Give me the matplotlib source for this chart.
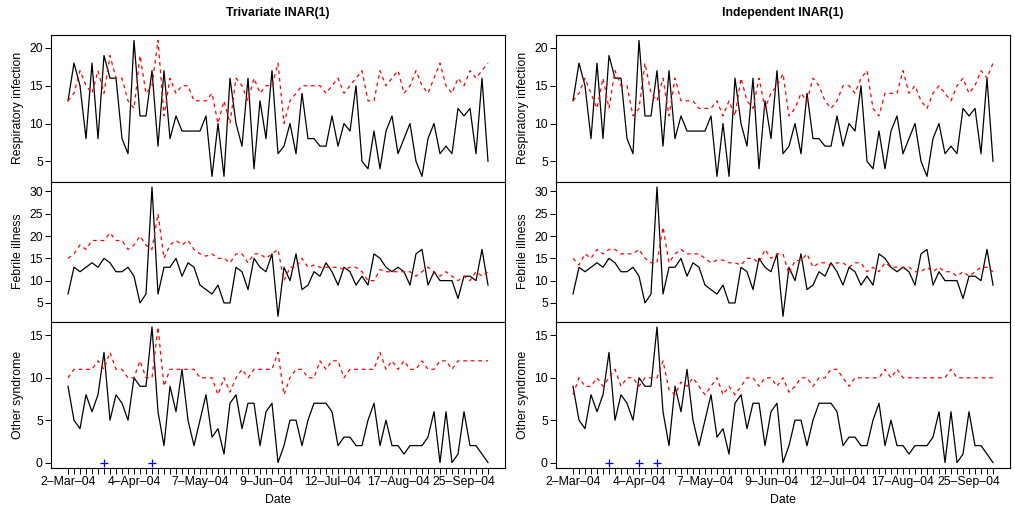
import numpy as np
import matplotlib
matplotlib.use("Agg")
import matplotlib.pyplot as plt

plt.rcParams['font.family'] = ['Liberation Sans', 'DejaVu Sans']

# observed counts (same in both columns)
resp_obs = [13, 18, 15, 8, 18, 8, 19, 16, 16, 8, 6, 21, 11, 11, 17, 7, 17, 8, 11, 9,
            9, 9, 9, 11, 3, 10, 3, 16, 10, 7, 16, 4, 13, 8, 17, 6, 7, 10, 6, 14,
            8, 8, 7, 7, 11, 7, 10, 9, 15, 5, 4, 9, 4, 9, 11, 6,
            8, 10, 5, 3, 8, 10, 6, 7, 6, 12, 11, 12, 6, 16, 5]
feb_obs = [7, 13, 12, 13, 14, 13, 15, 14, 12, 12, 13, 11, 5, 7, 31, 7, 13, 13, 15, 11,
           14, 13, 9, 8, 7, 9, 5, 5, 13, 12, 8, 15, 13, 12, 16, 2, 13, 10, 16, 8,
           9, 12, 11, 14, 12, 9, 13, 12, 9, 11, 9, 16, 15, 13, 12, 13,
           12, 9, 16, 17, 9, 12, 10, 10, 10, 6, 11, 11, 10, 17, 9]
oth_obs = [9, 5, 4, 8, 6, 8, 13, 5, 8, 7, 5, 10, 9, 9, 16, 6, 2, 9, 6, 11,
           5, 2, 5, 8, 3, 4, 1, 7, 8, 4, 7, 7, 2, 6, 7, 0, 2, 5, 5, 2,
           5, 7, 7, 7, 6, 2, 3, 3, 2, 2, 5, 7, 2, 5, 2, 2,
           1, 2, 2, 2, 3, 6, 0, 6, 0, 1, 6, 2, 2, 1, 0]

# trivariate INAR(1) predictions
resp_tri = [13, 14, 17, 15, 14, 17, 14, 19, 16, 16, 13, 12, 19, 14, 15, 21, 11, 16, 14, 15,
            15, 13, 13, 13, 14, 10, 13, 10, 16, 15, 13, 16, 14, 15, 15, 18, 10, 13, 14, 15,
            15, 15, 15, 14, 15, 16, 14, 15, 16, 17, 13, 13, 17, 15, 16, 17,
            14, 15, 17, 15, 14, 16, 18, 15, 14, 16, 15, 17, 16, 17, 18]
feb_tri = [15, 16, 18, 17, 19, 19, 19, 20.7, 19, 19, 17, 18, 20, 18, 17, 25, 15, 18, 19, 18,
           19, 17, 16, 15.5, 16, 15, 15, 14, 16, 16, 14, 16, 16, 15, 16, 17, 10, 13, 13, 15,
           13, 13.5, 13, 13, 13, 13, 12.5, 13, 13, 12, 10, 10, 12.5, 12, 12, 12,
           12, 12, 11, 12, 13, 12, 11, 12, 11, 10, 11, 10, 12, 11, 12]
oth_tri = [10, 11, 11, 11, 11, 12, 11, 13, 11, 11, 10, 10, 12, 10, 10, 16, 9, 11, 11, 11,
           11, 11, 10, 10, 10, 8, 10, 8.3, 10, 11, 10, 11, 11, 11, 11, 13, 8, 10, 11, 11,
           10, 10, 12, 11, 12, 12, 10, 11, 11, 11, 11, 11, 13, 11, 12, 11,
           12, 11, 11, 12, 11, 11, 12, 12, 11, 12, 12, 12, 12, 12, 12]

# independent INAR(1) predictions
resp_ind = [13, 14, 16, 14, 12, 16, 12, 17, 15, 15, 11, 12, 18, 14, 13, 16, 11, 16, 13, 13,
            13, 12, 12, 12, 13, 11, 13, 11, 16, 13, 12, 16, 12, 14, 15, 16.6, 11, 12, 14, 13,
            16, 15, 13, 12, 13, 15, 15, 14, 16, 17, 12, 11, 14, 14, 14, 17,
            14, 15, 13, 12, 14, 15, 14, 13, 15, 16, 14, 15, 17, 16, 18]
feb_ind = [15, 13.5, 16, 15, 17, 16, 17, 17, 16, 16, 16, 17, 15, 14, 14, 22, 14, 16, 17, 16,
           16, 16, 15, 14, 14.6, 14.6, 14, 14, 13.5, 15, 15, 14, 17, 15, 16, 16, 11.5, 14.5, 14.5, 16,
           13, 14, 14, 13.5, 14, 14, 13, 14, 14, 12, 13, 12, 14, 13, 13, 13,
           13, 12, 12, 13, 12, 13, 12, 12, 11, 12, 11, 12, 13, 13, 12]
oth_ind = [8, 10, 9, 9, 10, 9, 10, 11, 9, 10, 10, 9, 10, 10, 10, 12, 8.6, 8, 9.5, 9,
           10, 9, 8, 9, 10, 8, 9, 8, 9, 10, 10, 9, 10, 10, 9, 10, 8.3, 9, 10, 10,
           9, 10, 10, 11, 11, 10, 9, 10, 10, 10, 10, 10, 11, 10, 11, 10,
           10, 10, 10, 10, 10, 10, 10, 11, 10, 10, 10, 10, 10, 10, 10]

# outbreak signals (index of observation)
alarm_tri = [6, 14]
alarm_ind = [6, 11, 14]

# a date label every 11 observations
tick_idx = [0, 11, 22, 33, 44, 55, 66]
tick_labels = ['2\u2013Mar\u201304', '4\u2013Apr\u201304', '7\u2013May\u201304', '9\u2013Jun\u201304',
               '12\u2013Jul\u201304', '17\u2013Aug\u201304', '25\u2013Sep\u201304']

row_names = ['Respiratory infection', 'Febrile illness', 'Other syndrome']
row_ticks = [[5, 10, 15, 20], [5, 10, 15, 20, 25, 30], [0, 5, 10, 15]]
titles = ['Trivariate INAR(1)', 'Independent INAR(1)']

W, H = 1015, 507
fig = plt.figure(figsize=(W / 100, H / 100), dpi=100)

# pixel boxes: (left, right) per column, (top, bottom) per row
cols = [(51.2, 504.8), (556.2, 1009.8)]
rows = [(35.0, 181.8), (181.8, 321.5), (321.5, 468.0)]

fs = 8.8
x = np.arange(len(resp_obs))

obs = [resp_obs, feb_obs, oth_obs]
preds = [[resp_tri, feb_tri, oth_tri], [resp_ind, feb_ind, oth_ind]]
alarms = [alarm_tri, alarm_ind]

for c, (l, r) in enumerate(cols):
    for k, (t, b) in enumerate(rows):
        ax = fig.add_axes([l / W, 1 - b / H, (r - l) / W, (b - t) / H])
        ax.plot(x, obs[k], color='black', lw=0.9)
        ax.plot(x, preds[c][k], color='red', lw=0.9, dashes=(3, 3))
        ymin = min(min(obs[k]), min(preds[c][k]))
        ymax = max(max(obs[k]), max(preds[c][k]))
        pad = 0.04 * (ymax - ymin)
        ax.set_ylim(ymin - pad, ymax + pad)
        ax.set_xlim(-0.04 * (len(x) - 1), (len(x) - 1) * 1.04)
        ax.set_yticks(row_ticks[k])
        ax.tick_params(axis='y', labelsize=fs, length=4, width=0.7, pad=2)
        ax.set_ylabel(row_names[k], fontsize=fs, labelpad=4)
        for s in ax.spines.values():
            s.set_linewidth(0.8)
        if k < 2:
            ax.set_xticks([])
        else:
            ax.plot(alarms[c], [0] * len(alarms[c]), '+', color='blue', ms=6, mew=0.9)
            ax.set_xticks(x, minor=True)
            ax.set_xticks(tick_idx)
            ax.set_xticklabels(tick_labels)
            ax.tick_params(axis='x', which='both', labelsize=fs, length=4, width=0.7, pad=2)
            ax.set_xlabel('Date', fontsize=fs, labelpad=4)
        if k == 0:
            ax.set_title(titles[c], fontsize=fs, fontweight='bold', pad=14)

plt.savefig('out.png', dpi=100)
